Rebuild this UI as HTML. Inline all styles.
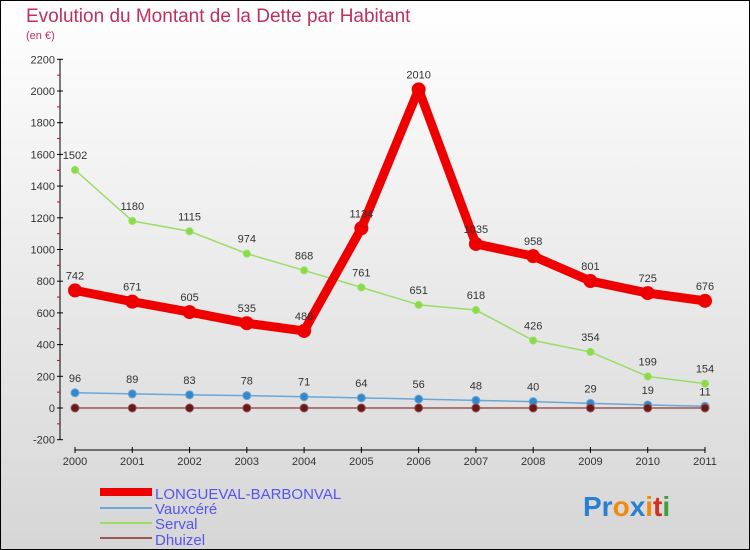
<!DOCTYPE html>
<html><head><meta charset="utf-8"><style>
body{margin:0;}
#wrap{width:750px;height:550px;position:relative;box-sizing:border-box;border:1px solid #000;background:linear-gradient(#ffffff,#d6d6d6);font-family:"Liberation Sans",sans-serif;overflow:hidden}
</style></head><body>
<div id="wrap">
<svg id="chart" width="750" height="550" style="position:absolute;left:-1px;top:-1px">
<text x="26" y="22" font-size="19" fill="#c0305a">Evolution du Montant de la Dette par Habitant</text>
<text x="26" y="39" font-size="11" fill="#c0305a">(en €)</text>
<g id="axes"></g><g id="series"></g>
<g>
<rect x="100" y="488" width="52" height="8" fill="#e00"/>
<text x="155" y="499" font-size="15" fill="#5555ee">LONGUEVAL-BARBONVAL</text>
<rect x="100" y="507" width="52" height="2" fill="#6aa6d6"/>
<text x="155" y="514" font-size="15" fill="#5555ee">Vauxcéré</text>
<rect x="100" y="522" width="52" height="2" fill="#99dd66"/>
<text x="155" y="529" font-size="15" fill="#5555ee">Serval</text>
<rect x="100" y="537" width="52" height="2" fill="#995555"/>
<text x="155" y="545" font-size="15" fill="#5555ee">Dhuizel</text>
</g>
<text x="583" y="516" font-size="28" font-weight="bold"><tspan fill="#2a7fd0">Pr</tspan><tspan fill="#f08a10">o</tspan><tspan fill="#2a7fd0">x</tspan><tspan fill="#f08a10">i</tspan><tspan fill="#d03020">t</tspan><tspan fill="#40a040">i</tspan></text>
</svg>
</div>
<script>
const years=["2000","2001","2002","2003","2004","2005","2006","2007","2008","2009","2010","2011"];
const yTicks=[-200,0,200,400,600,800,1000,1200,1400,1600,1800,2000,2200];
const longueval=[742,671,605,535,486,1134,2010,1035,958,801,725,676];
const vauxcere=[96,89,83,78,71,64,56,48,40,29,19,11];
const serval=[1502,1180,1115,974,868,761,651,618,426,354,199,154];
const dhuizel=[0,0,0,0,0,0,0,0,0,0,0,0];
const NS="http://www.w3.org/2000/svg";
function X(i){return 75+i*(630/11);}
function Y(v){return 408-v*0.1585;}
function mk(t,a,p){const e=document.createElementNS(NS,t);for(const k in a)e.setAttribute(k,a[k]);p.appendChild(e);return e;}
const ax=document.getElementById('axes');
let l=mk('line',{x1:60,y1:Y(2200),x2:60,y2:Y(-200),stroke:'#000'},ax);


l=mk('line',{x1:75,y1:450,x2:705,y2:450,stroke:'#000'},ax);


yTicks.forEach((v,i)=>{
 mk('line',{x1:57,x2:63,y1:Y(v),y2:Y(v),stroke:'#000'},ax);
 if(i<yTicks.length-1) mk('line',{x1:57,x2:60,y1:Y(v+100),y2:Y(v+100),stroke:'#d00'},ax);
 const t=mk('text',{x:55,y:Y(v)+4,'font-size':11,'text-anchor':'end',fill:'#333'},ax);t.textContent=v;
 
 
});
years.forEach((y,i)=>{
 mk('line',{x1:X(i),x2:X(i),y1:447,y2:453,stroke:'#000'},ax);
 const t=mk('text',{x:X(i),y:465,'font-size':11,'text-anchor':'middle',fill:'#333'},ax);t.textContent=y;
 
 
});
const sg=document.getElementById('series');
function draw(data,name,color,w,r,dot,lab){
 const g=mk('g',{},sg);
 
 
 const p=mk('polyline',{points:data.map((v,i)=>X(i)+','+Y(v)).join(' '),fill:'none',stroke:color,'stroke-width':w,'stroke-linejoin':'round'},g);
 
 
 data.forEach((v,i)=>{
  const c=mk('circle',{cx:X(i),cy:Y(v),r:r,fill:dot,stroke:color,'stroke-width':1},g);
  
  
  if(lab){const t=mk('text',{x:X(i),y:Y(v)-11,'font-size':11,'text-anchor':'middle',fill:'#333'},g);t.textContent=v;
  
  }
 });
}
draw(serval,'serval','#99dd66',1.5,3.5,'#88dd44',true);
draw(vauxcere,'vauxcere','#6aa6d6',1.5,4,'#3388cc',true);
draw(dhuizel,'dhuizel','#995555',1.5,4,'#661a1a',false);
draw(longueval,'longueval','#ee0000',9,6.5,'#ee0000',true);
</script>
</body></html>
